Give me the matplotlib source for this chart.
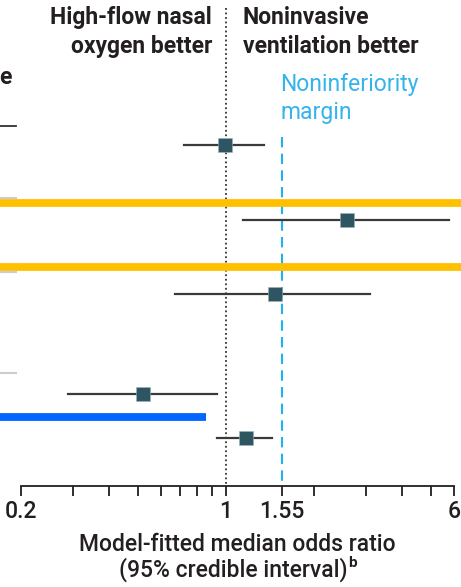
import numpy as np
import matplotlib
matplotlib.use("Agg")
import matplotlib.pyplot as plt
import matplotlib.transforms as mtransforms

plt.rcParams["font.family"] = ["Roboto", "DejaVu Sans"]

# forest plot values (model-fitted median odds ratio, 95% CrI)
medians = [0.99, 2.58, 1.47, 0.52, 1.17]
lower = [0.72, 1.14, 0.67, 0.29, 0.93]
upper = [1.35, 5.75, 3.11, 0.93, 1.44]
margin = 1.55
tick_values = [0.2, 0.3, 0.4, 0.5, 0.6, 0.7, 0.8, 0.9, 1, 1.55, 2, 3, 4, 5, 6]
tick_labels = ["0.2", "", "", "", "", "", "", "", "1", "1.55", "", "", "", "", "6"]

# vertical layout (pixel rows of the cropped table)
row_y = [145, 219.7, 293.7, 393.7, 437.7]

W, H = 461, 587
fig = plt.figure(figsize=(W / 100, H / 100), dpi=100)
axis_row = 486
ax = fig.add_axes([21 / W, (H - axis_row) / H, 433 / W, axis_row / H])
ax.set_xscale("log")
ax.set_xlim(0.2, 6)
ax.set_ylim(axis_row, 0)

dark = "#231f20"
blue_txt = "#35b4ea"
fs = 16.5

# reference lines
ax.plot([1, 1], [8, axis_row], color="#333333", lw=1.3, ls=(0, (1, 1.5)), zorder=1)
ax.plot([margin, margin], [137, axis_row], color="#1fb3ec", lw=1.5, ls=(0, (5, 3)), zorder=1)

# highlight bars and cut-off table rules, spanning the figure width
trans = mtransforms.blended_transform_factory(fig.transFigure, ax.transData)
for y in [203, 267.2]:
    ax.plot([0, 1], [y, y], color="#ffc000", lw=5.6, transform=trans, clip_on=False, zorder=2)
ax.plot([0, 206 / W], [416.8, 416.8], color="#0066ff", lw=5.6, transform=trans,
        clip_on=False, zorder=2, solid_capstyle="butt")
ax.plot([0, 16 / W], [125.5, 125.5], color="#333333", lw=1.3, transform=trans, clip_on=False)
for y in [198, 271.8, 373.3]:
    ax.plot([0, 16 / W], [y, y], color="#cccccc", lw=1.5, transform=trans, clip_on=False)

# estimates
for m, lo, hi, y in zip(medians, lower, upper, row_y):
    ax.plot([lo, hi], [y, y], color="#3a3a3a", lw=1.6, zorder=3)
    ax.plot(m, y, marker="s", ms=9.5, color="#2d5562", mec="#9fb3b9", mew=0.4, zorder=4)

# axis styling
for s in ["top", "right", "left"]:
    ax.spines[s].set_visible(False)
ax.spines["bottom"].set_linewidth(1.3)
ax.spines["bottom"].set_color(dark)
ax.set_yticks([])
ax.xaxis.set_minor_locator(matplotlib.ticker.NullLocator())
ax.set_xticks(tick_values)
ax.set_xticklabels(tick_labels, fontweight="medium")
ax.tick_params(axis="x", direction="out", length=7, width=1.3, color=dark,
               labelsize=fs, labelcolor=dark, pad=3)

# axis title, two lines, with a footnote mark
xc = (21 + 433 / 2) / W
ax.text(xc, 551, "Model-fitted median odds ratio", transform=trans, ha="center",
        va="baseline", fontsize=fs, fontweight="medium", color=dark, clip_on=False)
t2 = ax.text(xc - 4 / W, 577, "(95% credible interval)", transform=trans, ha="center",
             va="baseline", fontsize=fs, fontweight="medium", color=dark, clip_on=False)
ax.annotate("b", xy=(1, 1), xycoords=t2, xytext=(0.5, 1.5), textcoords="offset points",
            ha="left", va="top", fontsize=11, fontweight="bold", color=dark)

# header text
ax.text(212 / W, 24, "High-flow nasal", transform=trans, ha="right", va="baseline",
        fontsize=fs, fontweight="bold", color=dark)
ax.text(212 / W, 53, "oxygen better", transform=trans, ha="right", va="baseline",
        fontsize=fs, fontweight="bold", color=dark)
ax.text(243 / W, 24, "Noninvasive", transform=trans, ha="left", va="baseline",
        fontsize=fs, fontweight="bold", color=dark)
ax.text(243 / W, 53, "ventilation better", transform=trans, ha="left", va="baseline",
        fontsize=fs, fontweight="bold", color=dark)
ax.text(280 / W, 91, "Noninferiority", transform=trans, ha="left", va="baseline",
        fontsize=fs, color=blue_txt)
ax.text(280 / W, 119, "margin", transform=trans, ha="left", va="baseline",
        fontsize=fs, color=blue_txt)
ax.text(-1 / W, 84, "e", transform=trans, ha="left", va="baseline",
        fontsize=fs, fontweight="bold", color=dark)

fig.savefig("out.png", dpi=100)
